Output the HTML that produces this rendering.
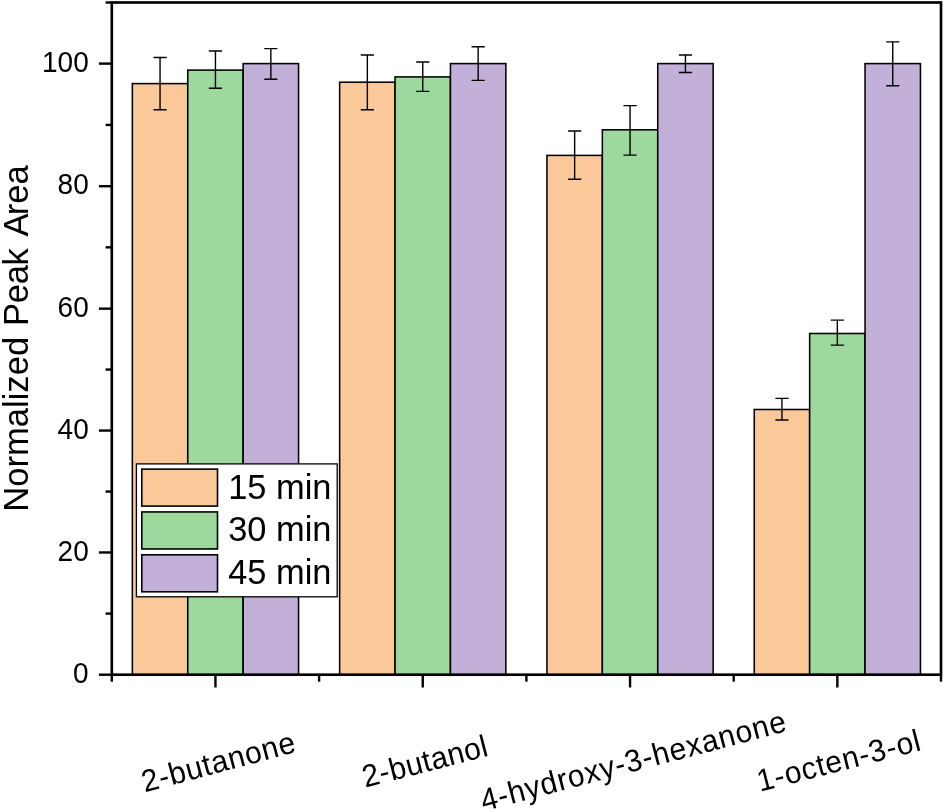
<!DOCTYPE html>
<html lang="en"><head><meta charset="utf-8"><title>Normalized Peak Area</title>
<style>html,body{margin:0;padding:0;background:#fff;}body{width:945px;height:812px;overflow:hidden;}svg{display:block;will-change:transform;}text{font-family:"Liberation Sans", Arial, Helvetica, sans-serif;fill:#000;}</style>
</head><body>
<svg width="945" height="812" viewBox="0 0 945 812">
<rect x="0" y="0" width="945" height="812" fill="#ffffff"/>
<g stroke="#000" stroke-width="1.55" stroke-linejoin="miter">
<rect x="132.35" y="83.60" width="55.40" height="591.10" fill="#fbc999"/>
<rect x="187.75" y="70.10" width="55.40" height="604.60" fill="#9dd89d"/>
<rect x="243.15" y="63.60" width="55.40" height="611.10" fill="#c2b0d8"/>
<rect x="339.65" y="82.20" width="55.40" height="592.50" fill="#fbc999"/>
<rect x="395.05" y="76.90" width="55.40" height="597.80" fill="#9dd89d"/>
<rect x="450.45" y="63.60" width="55.40" height="611.10" fill="#c2b0d8"/>
<rect x="546.95" y="155.40" width="55.40" height="519.30" fill="#fbc999"/>
<rect x="602.35" y="129.80" width="55.40" height="544.90" fill="#9dd89d"/>
<rect x="657.75" y="63.60" width="55.40" height="611.10" fill="#c2b0d8"/>
<rect x="754.25" y="409.50" width="55.40" height="265.20" fill="#fbc999"/>
<rect x="809.65" y="333.50" width="55.40" height="341.20" fill="#9dd89d"/>
<rect x="865.05" y="63.60" width="55.40" height="611.10" fill="#c2b0d8"/>
</g>
<g stroke="#000" stroke-width="1.4" fill="none">
<path d="M160.05 57.50V109.80M153.45 57.50H166.65M153.45 109.80H166.65"/>
<path d="M215.45 51.00V88.20M208.85 51.00H222.05M208.85 88.20H222.05"/>
<path d="M270.85 48.60V79.30M264.25 48.60H277.45M264.25 79.30H277.45"/>
<path d="M367.35 55.00V109.80M360.75 55.00H373.95M360.75 109.80H373.95"/>
<path d="M422.75 62.00V91.40M416.15 62.00H429.35M416.15 91.40H429.35"/>
<path d="M478.15 46.70V80.40M471.55 46.70H484.75M471.55 80.40H484.75"/>
<path d="M574.65 131.00V179.20M568.05 131.00H581.25M568.05 179.20H581.25"/>
<path d="M630.05 105.60V155.10M623.45 105.60H636.65M623.45 155.10H636.65"/>
<path d="M685.45 55.00V72.50M678.85 55.00H692.05M678.85 72.50H692.05"/>
<path d="M781.95 398.40V420.00M775.35 398.40H788.55M775.35 420.00H788.55"/>
<path d="M837.35 320.10V345.10M830.75 320.10H843.95M830.75 345.10H843.95"/>
<path d="M892.75 41.90V85.70M886.15 41.90H899.35M886.15 85.70H899.35"/>
</g>
<rect x="111.80" y="2.50" width="829.20" height="672.20" fill="none" stroke="#000" stroke-width="2.65"/>
<g stroke="#000" stroke-width="2.4">
<line x1="98.90" y1="674.70" x2="111.80" y2="674.70"/>
<line x1="105.60" y1="613.59" x2="111.80" y2="613.59"/>
<line x1="98.90" y1="552.48" x2="111.80" y2="552.48"/>
<line x1="105.60" y1="491.57" x2="111.80" y2="491.57"/>
<line x1="98.90" y1="430.56" x2="111.80" y2="430.56"/>
<line x1="105.60" y1="369.55" x2="111.80" y2="369.55"/>
<line x1="98.90" y1="308.65" x2="111.80" y2="308.65"/>
<line x1="105.60" y1="247.34" x2="111.80" y2="247.34"/>
<line x1="98.90" y1="186.23" x2="111.80" y2="186.23"/>
<line x1="105.60" y1="124.92" x2="111.80" y2="124.92"/>
<line x1="98.90" y1="63.61" x2="111.80" y2="63.61"/>
<line x1="105.60" y1="2.50" x2="111.80" y2="2.50"/>
<line x1="111.80" y1="674.70" x2="111.80" y2="681.70"/>
<line x1="215.45" y1="674.70" x2="215.45" y2="687.50"/>
<line x1="319.10" y1="674.70" x2="319.10" y2="681.70"/>
<line x1="422.75" y1="674.70" x2="422.75" y2="687.50"/>
<line x1="526.40" y1="674.70" x2="526.40" y2="681.70"/>
<line x1="630.05" y1="674.70" x2="630.05" y2="687.50"/>
<line x1="733.70" y1="674.70" x2="733.70" y2="681.70"/>
<line x1="837.35" y1="674.70" x2="837.35" y2="687.50"/>
<line x1="941.00" y1="674.70" x2="941.00" y2="681.70"/>
</g>
<g font-size="28" text-anchor="end">
<text transform="translate(88.70 682.80) scale(1 1.04)">0</text>
<text transform="translate(88.70 560.58) scale(1 1.04)">20</text>
<text transform="translate(88.70 438.66) scale(1 1.04)">40</text>
<text transform="translate(88.70 316.75) scale(1 1.04)">60</text>
<text transform="translate(88.70 194.33) scale(1 1.04)">80</text>
<text transform="translate(88.70 71.71) scale(1 1.04)">100</text>
</g>
<text font-size="34.6" transform="translate(28.3 511.8) rotate(-90) scale(1 1.04)" dx="0 0 0 0 0 0 0 0 0 0 1.5 -0.3 -0.3 -0.3 -0.3 3.9 0 -1.8 0 0">Normalized Peak Area</text>
<g font-size="30">
<text letter-spacing="0.65" transform="translate(144.80 792.40) rotate(-15.0) scale(1 1.04)">2-butanone</text>
<text letter-spacing="0.40" transform="translate(365.30 787.60) rotate(-14.4) scale(1 1.04)">2-butanol</text>
<text letter-spacing="0.76" transform="translate(483.70 811.20) rotate(-14.8) scale(1 1.04)">4-hydroxy-3-hexanone</text>
<text letter-spacing="0.68" transform="translate(760.00 791.80) rotate(-14.4) scale(1 1.04)">1-octen-3-ol</text>
</g>
<rect x="136.4" y="463.9" width="200.8" height="132.9" fill="#fff" stroke="#000" stroke-width="1.3"/>
<rect x="141.8" y="469.10" width="75.7" height="37.0" fill="#fbc999" stroke="#000" stroke-width="1.6"/>
<text font-size="34.4" transform="translate(228.2 498.70) scale(1 1.04)">15 min</text>
<rect x="141.8" y="511.95" width="75.7" height="37.0" fill="#9dd89d" stroke="#000" stroke-width="1.6"/>
<text font-size="34.4" transform="translate(228.2 540.90) scale(1 1.04)">30 min</text>
<rect x="141.8" y="554.80" width="75.7" height="37.0" fill="#c2b0d8" stroke="#000" stroke-width="1.6"/>
<text font-size="34.4" transform="translate(228.2 583.50) scale(1 1.04)">45 min</text>
</svg></body></html>
